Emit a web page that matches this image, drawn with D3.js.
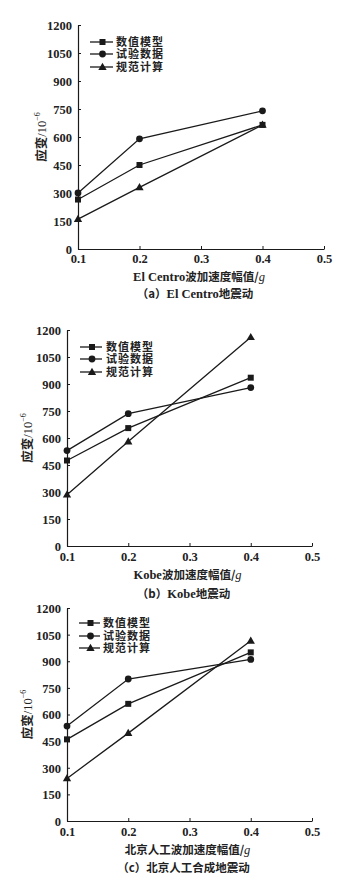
<!DOCTYPE html>
<html><head><meta charset="utf-8">
<script src="https://cdn.jsdelivr.net/npm/d3@7"></script>
<style>
body{margin:0;background:#fff;}
svg{display:block;}
text{font-family:"Liberation Serif","Noto Sans CJK SC",serif;fill:#222;}
</style></head>
<body>
<svg id="c" width="344" height="890"></svg>
<script>
const xValues = [0.1, 0.2, 0.4];
const seriesNames = ["数值模型", "试验数据", "规范计算"];
const xTicks = [0.1, 0.2, 0.3, 0.4, 0.5];
const yTicks = [0, 150, 300, 450, 600, 750, 900, 1050, 1200];

// Panel (a) El Centro
const elCentroModel = [265, 450, 665];
const elCentroTest = [300, 590, 740];
const elCentroCode = [160, 330, 665];
// Panel (b) Kobe
const kobeModel = [475, 655, 935];
const kobeTest = [530, 735, 880];
const kobeCode = [285, 580, 1160];
// Panel (c) Beijing artificial
const beijingModel = [460, 660, 950];
const beijingTest = [535, 800, 910];
const beijingCode = [240, 495, 1015];

const xLabels = ["El Centro波加速度幅值/", "Kobe波加速度幅值/", "北京人工波加速度幅值/"];
const captions = ["（a）El Centro地震动", "（b）Kobe地震动", "（c）北京人工合成地震动"];

const panels = [
  {series:[elCentroModel, elCentroTest, elCentroCode], xl:xLabels[0], cap:captions[0],
   L:78, R:324, T:25, B:249, ylx:42, tly:263, xly:281, capy:298, leg:{x1:90,x2:113,tx:116,y:[42,54,67]}},
  {series:[kobeModel, kobeTest, kobeCode], xl:xLabels[1], cap:captions[1],
   L:67, R:312, T:330, B:546, ylx:28, tly:561, xly:579, capy:598, leg:{x1:80,x2:102,tx:106,y:[347,359,372]}},
  {series:[beijingModel, beijingTest, beijingCode], xl:xLabels[2], cap:captions[2],
   L:67, R:312, T:608, B:821, ylx:28, tly:836, xly:854, capy:872, leg:{x1:79,x2:100,tx:103,y:[623,636,648]}}
];

const svg = d3.select("#c");
const col = "#1a1a1a";

function marker(g, type, x, y){
  if(type===0){
    g.append("rect").attr("x",x-3).attr("y",y-3).attr("width",6).attr("height",6).attr("fill",col);
  } else if(type===1){
    g.append("circle").attr("cx",x).attr("cy",y).attr("r",3.4).attr("fill",col);
  } else {
    g.append("path").attr("d",d3.symbol(d3.symbolTriangle, 30)()).attr("transform",`translate(${x},${y+0.5})`).attr("fill",col);
  }
}

panels.forEach(p=>{
  const x = d3.scaleLinear().domain([0.1,0.5]).range([p.L,p.R]);
  const y = d3.scaleLinear().domain([0,1200]).range([p.B,p.T]);
  const g = svg.append("g");

  const ya = g.append("g").attr("transform",`translate(${p.L},0)`)
    .call(d3.axisLeft(y).tickValues(yTicks).tickFormat(d3.format("d")).tickSizeInner(-3).tickSizeOuter(0).tickPadding(6));
  const xa = g.append("g").attr("transform",`translate(0,${p.B})`)
    .call(d3.axisBottom(x).tickValues(xTicks).tickFormat(d3.format(".1f")).tickSizeInner(-3).tickSizeOuter(0).tickPadding(0));
  [ya,xa].forEach(a=>{
    a.select(".domain").attr("stroke",col).attr("stroke-width",1.2);
    a.selectAll(".tick line").attr("stroke",col).attr("stroke-width",1);
    a.selectAll("text").attr("font-family","Liberation Serif").attr("font-size",12.5).attr("font-weight","bold").attr("fill","#222");
  });
  xa.selectAll(".tick text").attr("y",null).attr("dy",null).attr("transform",null)
    .attr("y", p.tly - p.B);
  ya.selectAll(".tick text").attr("dy","0.35em");

  const line = d3.line().x((d,i)=>x(xValues[i])).y(d=>y(d));
  p.series.forEach((s,si)=>{
    g.append("path").datum(s).attr("d",line).attr("fill","none").attr("stroke",col).attr("stroke-width",1.3);
    s.forEach((v,i)=>marker(g,si,x(xValues[i]),y(v)));
  });

  // legend
  seriesNames.forEach((n,i)=>{
    const ly = p.leg.y[i];
    g.append("line").attr("x1",p.leg.x1).attr("x2",p.leg.x2).attr("y1",ly).attr("y2",ly).attr("stroke",col).attr("stroke-width",1.3);
    marker(g,i,(p.leg.x1+p.leg.x2)/2+1,ly);
    g.append("text").attr("x",p.leg.tx).attr("y",ly).attr("dy","0.36em").attr("font-size",11)
      .attr("font-family","Noto Sans CJK SC").attr("font-weight","bold").attr("letter-spacing",1).text(n);
  });

  // y label
  const yc = (p.T+p.B)/2;
  const yl = g.append("text").attr("transform",`translate(${p.ylx},${yc}) rotate(-90)`)
    .attr("text-anchor","middle").attr("dy","0.35em").attr("font-size",12.5);
  yl.append("tspan").attr("font-family","Noto Sans CJK SC").attr("font-weight","bold").text("应变");
  yl.append("tspan").attr("font-family","Liberation Serif").text("/10");
  yl.append("tspan").attr("font-family","Liberation Serif").attr("font-size",8).attr("dy","-0.8em").text("−6");

  // x label
  const xc = (p.L+p.R)/2;
  const xt = g.append("text").attr("x",xc-2).attr("y",p.xly).attr("text-anchor","middle").attr("font-size",11.5);
  const parts = p.xl.match(/^([A-Za-z ]*)(.*)$/);
  if(parts[1]) xt.append("tspan").attr("font-family","Liberation Serif").attr("font-weight","bold").attr("font-size",12.5).text(parts[1]);
  xt.append("tspan").attr("font-family","Noto Sans CJK SC").attr("font-weight","bold").text(parts[2]);
  xt.append("tspan").attr("font-family","Liberation Serif").attr("font-style","italic").attr("font-size",12.5).text("g");

  // caption
  const ct = g.append("text").attr("x",xc-6).attr("y",p.capy).attr("text-anchor","middle").attr("font-size",11.5);
  const cp = p.cap.match(/^(（[a-z]）)([A-Za-z ]*)(.*)$/);
  ct.append("tspan").attr("font-family","Noto Sans CJK SC").attr("font-weight","bold").text(cp[1]);
  if(cp[2]) ct.append("tspan").attr("font-family","Liberation Serif").attr("font-weight","bold").attr("font-size",12.5).text(cp[2]);
  ct.append("tspan").attr("font-family","Noto Sans CJK SC").attr("font-weight","bold").text(cp[3]);
});
</script>
</body></html>
